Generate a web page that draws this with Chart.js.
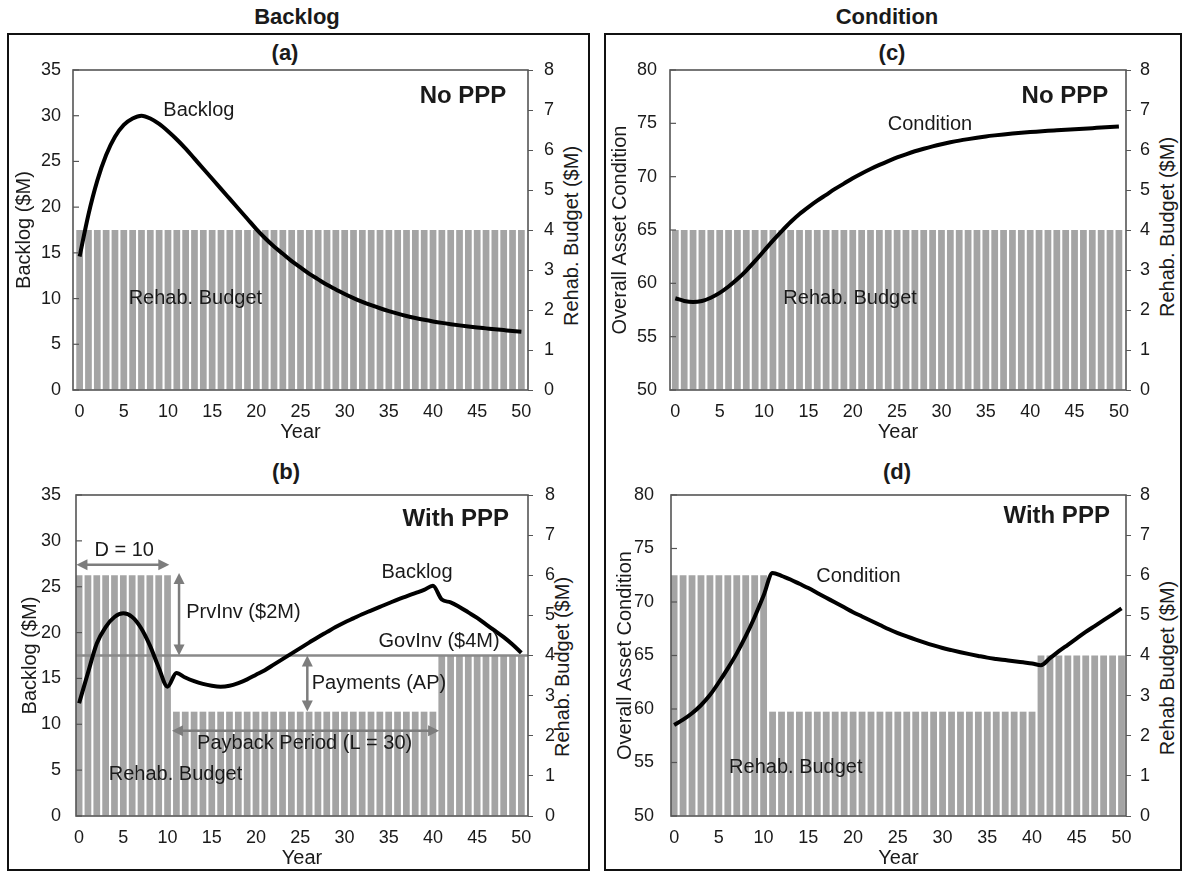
<!DOCTYPE html>
<html><head><meta charset="utf-8">
<script src="https://cdn.jsdelivr.net/npm/chart.js@4/dist/chart.umd.min.js"></script>
<style>
body{margin:0;background:#fff;width:1183px;height:873px;position:relative;overflow:hidden;font-family:"Liberation Sans",Arial,sans-serif;color:#1a1a1a}
.box{position:absolute;border:2px solid #111;box-sizing:border-box}
.lbl{position:absolute;transform:translate(-50%,-50%);font-weight:bold;white-space:nowrap}
.rt{position:absolute;transform:translate(-50%,-50%) rotate(-90deg);white-space:nowrap;font-size:20px}
canvas{position:absolute}
</style></head><body>
<div class="box" style="left:7px;top:33px;width:583px;height:838px"></div>
<div class="box" style="left:604px;top:33px;width:578px;height:838px"></div>
<div class="lbl" style="left:297px;top:17px;font-size:22px">Backlog</div>
<div class="lbl" style="left:887px;top:17px;font-size:22px">Condition</div>
<div class="lbl" style="left:285px;top:53px;font-size:22px">(a)</div>
<div class="lbl" style="left:892px;top:53px;font-size:22px">(c)</div>
<div class="lbl" style="left:286px;top:472px;font-size:22px">(b)</div>
<div class="lbl" style="left:897px;top:472px;font-size:22px">(d)</div>
<div class="rt" style="left:571px;top:236px">Rehab. Budget ($M)</div>
<div class="rt" style="left:562px;top:667px">Rehab. Budget ($M)</div>
<div class="rt" style="left:1167px;top:227px">Rehab. Budget ($M)</div>
<div class="rt" style="left:1167px;top:668px">Rehab Budget ($M)</div>
<canvas id="ca" width="578" height="408" style="left:9px;top:36px;width:578px;height:408px"></canvas>
<canvas id="cb" width="578" height="410" style="left:9px;top:460px;width:578px;height:410px"></canvas>
<canvas id="cc" width="574" height="408" style="left:606px;top:36px;width:574px;height:408px"></canvas>
<canvas id="cd" width="574" height="410" style="left:606px;top:460px;width:574px;height:410px"></canvas>
<script>
// ---------- data ----------
const years = [0,1,2,3,4,5,6,7,8,9,10,11,12,13,14,15,16,17,18,19,20,21,22,23,24,25,26,27,28,29,30,31,32,33,34,35,36,37,38,39,40,41,42,43,44,45,46,47,48,49,50];
const yearTicks = [0,5,10,15,20,25,30,35,40,45,50];
const backlogTicks = [0,5,10,15,20,25,30,35];
const conditionTicks = [50,55,60,65,70,75,80];
const budgetTicks = [0,1,2,3,4,5,6,7,8];

const budgetNoPPP = [4,4,4,4,4,4,4,4,4,4,4,4,4,4,4,4,4,4,4,4,4,4,4,4,4,4,4,4,4,4,4,4,4,4,4,4,4,4,4,4,4,4,4,4,4,4,4,4,4,4,4];
const budgetPPP = [6,6,6,6,6,6,6,6,6,6,6,2.6,2.6,2.6,2.6,2.6,2.6,2.6,2.6,2.6,2.6,2.6,2.6,2.6,2.6,2.6,2.6,2.6,2.6,2.6,2.6,2.6,2.6,2.6,2.6,2.6,2.6,2.6,2.6,2.6,2.6,4,4,4,4,4,4,4,4,4,4];
const govInv = 4;

const backlogNoPPP = [14.6,19.2,22.9,25.7,27.7,29.0,29.7,30.0,29.7,29.1,28.3,27.4,26.4,25.3,24.2,23.1,22.0,20.9,19.8,18.7,17.6,16.6,15.7,14.9,14.1,13.4,12.7,12.1,11.5,11.0,10.5,10.05,9.65,9.28,8.94,8.63,8.35,8.1,7.88,7.68,7.5,7.34,7.2,7.07,6.95,6.84,6.74,6.64,6.55,6.46,6.38];
const backlogPPP = [12.3,15.6,18.8,20.6,21.7,22.1,21.7,20.5,18.6,16.2,14.1,15.6,15.1,14.7,14.4,14.2,14.1,14.2,14.5,14.9,15.4,15.9,16.5,17.1,17.7,18.3,18.9,19.5,20.05,20.6,21.1,21.55,22.0,22.4,22.8,23.2,23.6,23.95,24.3,24.65,25.1,23.6,23.3,22.8,22.2,21.6,20.9,20.2,19.5,18.7,17.8];
const conditionNoPPP = [58.6,58.35,58.25,58.35,58.65,59.1,59.7,60.4,61.2,62.1,63.05,64.0,64.9,65.75,66.5,67.15,67.75,68.3,68.85,69.35,69.85,70.3,70.72,71.1,71.46,71.8,72.1,72.38,72.62,72.84,73.04,73.22,73.38,73.52,73.65,73.77,73.87,73.96,74.04,74.11,74.18,74.24,74.3,74.35,74.4,74.45,74.5,74.55,74.6,74.65,74.7];
const conditionPPP = [58.5,59.0,59.6,60.35,61.3,62.5,63.8,65.2,66.8,68.6,70.6,72.7,72.45,72.1,71.7,71.3,70.85,70.4,69.95,69.5,69.05,68.65,68.25,67.85,67.45,67.1,66.78,66.48,66.2,65.94,65.7,65.5,65.31,65.13,64.96,64.8,64.68,64.57,64.46,64.36,64.26,64.1,64.75,65.4,66.0,66.6,67.2,67.75,68.3,68.85,69.4];

// ---------- rendering ----------
const FONT = "'Liberation Sans', Arial, sans-serif";
Chart.defaults.font.family = FONT;
Chart.defaults.color = '#1a1a1a';
const BAR = '#a4a4a4', ARROW = '#7d7d7d';

const notesPlugin = {
  id: 'notes',
  afterDatasetsDraw(chart, args, opts) {
    const ctx = chart.ctx, a = chart.chartArea, xs = chart.scales.x;
    ctx.save();
    ctx.strokeStyle = '#555'; ctx.lineWidth = 1.2;
    chart.scales.y.ticks.forEach(t => {
      const py = chart.scales.y.getPixelForValue(t.value);
      ctx.beginPath(); ctx.moveTo(a.left, py); ctx.lineTo(a.left + 6, py); ctx.stroke();
    });
    (opts.items || []).forEach(it => {
      const ys = chart.scales[it.axis || 'y'];
      if (it.type === 'text') {
        ctx.font = it.font || ('20px ' + FONT);
        ctx.fillStyle = '#1a1a1a';
        ctx.textAlign = it.align || 'center';
        ctx.textBaseline = 'middle';
        ctx.fillText(it.text, xs.getPixelForValue(it.x), ys.getPixelForValue(it.y));
      } else if (it.type === 'arrow') {
        const x1 = xs.getPixelForValue(it.x1), y1 = ys.getPixelForValue(it.y1);
        const x2 = xs.getPixelForValue(it.x2), y2 = ys.getPixelForValue(it.y2);
        const ang = Math.atan2(y2 - y1, x2 - x1), hl = 11, hw = 5.5;
        ctx.strokeStyle = ARROW; ctx.fillStyle = ARROW; ctx.lineWidth = 2.5;
        ctx.beginPath();
        ctx.moveTo(x1 + Math.cos(ang) * hl * 0.8, y1 + Math.sin(ang) * hl * 0.8);
        ctx.lineTo(x2 - Math.cos(ang) * hl * 0.8, y2 - Math.sin(ang) * hl * 0.8);
        ctx.stroke();
        [[x1, y1, ang + Math.PI], [x2, y2, ang]].forEach(([px, py, an]) => {
          ctx.beginPath();
          ctx.moveTo(px, py);
          ctx.lineTo(px - Math.cos(an) * hl - Math.sin(an) * hw, py - Math.sin(an) * hl + Math.cos(an) * hw);
          ctx.lineTo(px - Math.cos(an) * hl + Math.sin(an) * hw, py - Math.sin(an) * hl - Math.cos(an) * hw);
          ctx.closePath(); ctx.fill();
        });
      }
    });
    ctx.strokeStyle = '#555'; ctx.lineWidth = 1.6;
    ctx.strokeRect(a.left, a.top, a.width, a.height);
    ctx.restore();
  }
};

function pts(xs, ys) { return xs.map((x, i) => ({x: x, y: ys[i]})); }

function makePanel(p) {
  const datasets = [
    {type: 'line', data: pts(years, p.line), yAxisID: 'y', borderColor: '#000', borderWidth: 4,
     pointRadius: 0, cubicInterpolationMode: 'monotone', order: 0},
    {type: 'bar', data: pts(years, p.budget), yAxisID: 'y1', backgroundColor: BAR, borderWidth: 0,
     barPercentage: 0.76, categoryPercentage: 1, order: 2}
  ];
  if (p.gov) {
    datasets.push({type: 'line', data: [{x: p.xr[0], y: govInv}, {x: p.xr[1], y: govInv}], yAxisID: 'y1',
      borderColor: '#8a8a8a', borderWidth: 2.5, pointRadius: 0, order: 1});
  }
  new Chart(document.getElementById(p.id), {
    type: 'bar',
    data: {datasets: datasets},
    plugins: [notesPlugin],
    options: {
      responsive: false, animation: false,
      layout: {padding: {top: p.padTop, left: 0, right: 0, bottom: 0}},
      plugins: {legend: {display: false}, tooltip: {enabled: false}, notes: {items: p.items}},
      scales: {
        x: {type: 'linear', min: p.xr[0], max: p.xr[1], offset: false,
            afterBuildTicks: s => { s.ticks = yearTicks.map(v => ({value: v})); },
            afterFit: s => { s.height = p.xH; },
            ticks: {font: {size: 18}, padding: 11, maxRotation: 0, autoSkip: false, color: '#1a1a1a'},
            grid: {display: false, drawTicks: false}, border: {display: false},
            title: {display: true, text: 'Year', font: {size: 20, lineHeight: 1.2}, padding: {top: 0, bottom: 0}, color: '#1a1a1a'}},
        y: {position: 'left', min: p.yr[0], max: p.yr[1],
            afterBuildTicks: s => { s.ticks = p.yTicks.map(v => ({value: v})); },
            afterFit: s => { s.width = p.yW; },
            ticks: {font: {size: 18}, padding: p.yPad, color: '#1a1a1a'},
            grid: {display: false, drawTicks: false}, border: {display: false},
            title: {display: true, text: p.yTitle, font: {size: 20, lineHeight: 1.2}, padding: {top: p.yTitlePad, bottom: 0}, color: '#1a1a1a'}},
        y1: {position: 'right', min: 0, max: 8,
            afterBuildTicks: s => { s.ticks = budgetTicks.map(v => ({value: v})); },
            afterFit: s => { s.width = p.y1W; },
            ticks: {font: {size: 18}, padding: p.y1Pad, color: '#1a1a1a'},
            grid: {display: true, drawOnChartArea: false, drawTicks: true, tickLength: 5, color: '#555'},
            border: {display: false}}
      }
    }
  });
}

const bold = '700 24px ' + FONT, reg = '20px ' + FONT;

makePanel({id: 'ca', xr: [-0.75, 50.75], yr: [0, 35], yTicks: backlogTicks, line: backlogNoPPP, budget: budgetNoPPP,
  padTop: 34, xH: 54, yW: 64, y1W: 59, yPad: 12, y1Pad: 11, yTitle: 'Backlog ($M)', yTitlePad: 3,
  items: [
    {type: 'text', text: 'Backlog', x: 13.5, y: 30.6, font: reg},
    {type: 'text', text: 'Rehab. Budget', x: 13.1, y: 10.0, font: reg},
    {type: 'text', text: 'No PPP', x: 48.3, y: 32.1, font: bold, align: 'right'}
  ]});

makePanel({id: 'cb', xr: [-0.35, 50.75], yr: [0, 35], yTicks: backlogTicks, line: backlogPPP, budget: budgetPPP, gov: true,
  padTop: 35, xH: 54, yW: 67, y1W: 59, yPad: 15, y1Pad: 12, yTitle: 'Backlog ($M)', yTitlePad: 9,
  items: [
    {type: 'text', text: 'With PPP', x: 48.6, y: 32.3, font: bold, align: 'right'},
    {type: 'text', text: 'D = 10', x: 5.1, y: 29.0, font: reg},
    {type: 'arrow', x1: -0.3, y1: 27.4, x2: 10.2, y2: 27.4},
    {type: 'arrow', x1: 11.3, y1: 26.5, x2: 11.3, y2: 17.5},
    {type: 'text', text: 'PrvInv ($2M)', x: 12.1, y: 22.2, font: reg, align: 'left'},
    {type: 'text', text: 'Backlog', x: 38.2, y: 26.5, font: reg},
    {type: 'text', text: 'GovInv ($4M)', x: 40.7, y: 19.0, font: reg},
    {type: 'arrow', x1: 25.8, y1: 17.5, x2: 25.8, y2: 11.4},
    {type: 'text', text: 'Payments (AP)', x: 26.3, y: 14.5, font: reg, align: 'left'},
    {type: 'arrow', x1: 10.5, y1: 9.3, x2: 40.7, y2: 9.3},
    {type: 'text', text: 'Payback Period (L = 30)', x: 25.5, y: 7.9, font: reg},
    {type: 'text', text: 'Rehab. Budget', x: 10.9, y: 4.5, font: reg}
  ]});

makePanel({id: 'cc', xr: [-0.6, 50.8], yr: [50, 80], yTicks: conditionTicks, line: conditionNoPPP, budget: budgetNoPPP,
  padTop: 34, xH: 54, yW: 64, y1W: 54, yPad: 13, y1Pad: 9, yTitle: 'Overall Asset Condition', yTitlePad: 2,
  items: [
    {type: 'text', text: 'Condition', x: 28.7, y: 74.85, font: reg},
    {type: 'text', text: 'Rehab. Budget', x: 19.7, y: 58.6, font: reg},
    {type: 'text', text: 'No PPP', x: 48.8, y: 77.5, font: bold, align: 'right'}
  ]});

makePanel({id: 'cd', xr: [-0.35, 50.5], yr: [50, 80], yTicks: conditionTicks, line: conditionPPP, budget: budgetPPP,
  padTop: 35, xH: 54, yW: 65, y1W: 54, yPad: 17, y1Pad: 9, yTitle: 'Overall Asset Condition', yTitlePad: 7,
  items: [
    {type: 'text', text: 'Condition', x: 20.6, y: 72.4, font: reg},
    {type: 'text', text: 'Rehab. Budget', x: 13.6, y: 54.5, font: reg},
    {type: 'text', text: 'With PPP', x: 48.7, y: 78.0, font: bold, align: 'right'}
  ]});
</script>
</body></html>
